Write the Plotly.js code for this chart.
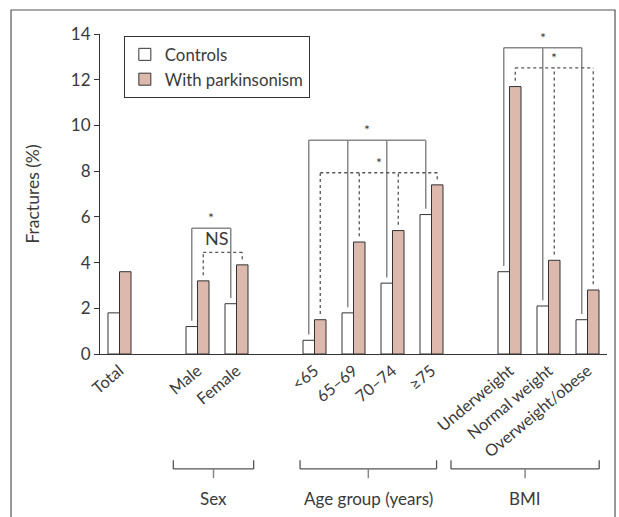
<!DOCTYPE html>
<html><head><meta charset="utf-8">
<script src="https://cdn.plot.ly/plotly-3.0.1.min.js"></script>
<style>html,body{margin:0;padding:0;background:#fff}</style>
</head><body><div id="chart" style="width:619px;height:517px"></div>
<script>
// ---- data ----
const categories = ['Total', 'Male', 'Female', '<65', '65–69', '70–74', '≥75', 'Underweight', 'Normal weight', 'Overweight/obese'];
const categoryGroup = ['', 'Sex', 'Sex', 'Age group (years)', 'Age group (years)', 'Age group (years)', 'Age group (years)', 'BMI', 'BMI', 'BMI'];
const controls = [1.8, 1.2, 2.2, 0.6, 1.8, 3.1, 6.1, 3.6, 2.1, 1.5];
const parkinsonism = [3.6, 3.2, 3.9, 1.5, 4.9, 5.4, 7.4, 11.7, 4.1, 2.8];
const seriesNames = ['Controls', 'With parkinsonism'];
const yTickValues = [0, 2, 4, 6, 8, 10, 12, 14];
const groupNames = ['Sex', 'Age group (years)', 'BMI'];
// significance comparisons within each group (level = height of bracket, % units)
const comparisons = [
  {group: 'Sex', series: 0, level: 5.5, label: '*'},
  {group: 'Sex', series: 1, level: 4.45, label: 'NS'},
  {group: 'Age group (years)', series: 0, level: 9.35, label: '*'},
  {group: 'Age group (years)', series: 1, level: 7.93, label: '*'},
  {group: 'BMI', series: 0, level: 13.4, label: '*'},
  {group: 'BMI', series: 1, level: 12.52, label: '*'}
];

// ---- decoration settings ----
const textColor = '#3a3a3a';
const fontFamily = 'Lato, "Liberation Sans", sans-serif';
const bargap = 0.41;
const barHalf = (1 - bargap) / 4;
const groupSpan = {'Sex': [1.38, 3.44], 'Age group (years)': [4.63, 8.13], 'BMI': [8.5, 12.3]};

// slot positions: one empty slot between groups
const slots = [];
let s = 0;
categories.forEach((c, i) => {
  if (i > 0) s += (categoryGroup[i] !== categoryGroup[i - 1]) ? 2 : 1;
  slots.push(s);
});

const series = [controls, parkinsonism];
const traces = [
  {type: 'bar', name: seriesNames[0], x: slots, y: controls,
   marker: {color: '#ffffff', line: {color: '#333', width: 1}}},
  {type: 'bar', name: seriesNames[1], x: slots, y: parkinsonism,
   marker: {color: '#dcb9ac', line: {color: '#333', width: 1}}}
];

const shapes = [];
const annotations = [];
const dropGap = 0.25;
comparisons.forEach(cmp => {
  const idx = categories.map((c, i) => i).filter(i => categoryGroup[i] === cmp.group);
  const off = cmp.series === 0 ? -barHalf : barHalf;
  const xs = idx.map(i => slots[i] + off);
  const line = cmp.series === 0 ? {color: '#888', width: 1.5} : {color: '#555', width: 1.3, dash: 'dot'};
  idx.forEach((i, k) => {
    shapes.push({type: 'line', xref: 'x', yref: 'y', x0: xs[k], x1: xs[k],
      y0: series[cmp.series][i] + dropGap, y1: cmp.level, line: line});
  });
  shapes.push({type: 'line', xref: 'x', yref: 'y', x0: xs[0], x1: xs[xs.length - 1],
    y0: cmp.level, y1: cmp.level, line: line});
  let lx = (xs[0] + xs[xs.length - 1]) / 2;
  if (cmp.label.length > 1) lx = (slots[idx[0]] + slots[idx[idx.length - 1]]) / 2;
  annotations.push({xref: 'x', yref: 'y', x: lx, y: cmp.level, text: cmp.label,
    showarrow: false, yanchor: 'bottom', yshift: cmp.label.length > 1 ? 1 : 0,
    font: {family: fontFamily, size: cmp.label.length > 1 ? 18 : 14, color: textColor}});
});

// group brackets under the axis
groupNames.forEach(g => {
  const [a, b] = groupSpan[g];
  const m = (a + b) / 2;
  const ln = {color: '#555', width: 1.3};
  shapes.push({type: 'line', xref: 'x', yref: 'paper', x0: a, x1: b, y0: -0.359, y1: -0.359, line: ln});
  shapes.push({type: 'line', xref: 'x', yref: 'paper', x0: a, x1: a, y0: -0.359, y1: -0.332, line: ln});
  shapes.push({type: 'line', xref: 'x', yref: 'paper', x0: b, x1: b, y0: -0.359, y1: -0.332, line: ln});
  shapes.push({type: 'line', xref: 'x', yref: 'paper', x0: m, x1: m, y0: -0.359, y1: -0.388, line: {color: '#888', width: 1.5}});
  annotations.push({xref: 'x', yref: 'paper', x: m, y: -0.45, yanchor: 'middle', text: g, showarrow: false,
    font: {family: fontFamily, size: 17, color: textColor}});
});

// outer frame
shapes.push({type: 'rect', xref: 'paper', yref: 'paper', x0: -0.1755, x1: 1.0158, y0: -0.56, y1: 1.075,
  line: {color: '#555', width: 1.2}, fillcolor: 'rgba(0,0,0,0)'});

const layout = {
  width: 619, height: 517,
  margin: {l: 100, r: 12, t: 34, b: 163},
  paper_bgcolor: '#fff', plot_bgcolor: '#fff',
  font: {family: fontFamily, size: 17, color: textColor},
  barmode: 'group', bargap: bargap, bargroupgap: 0,
  showlegend: true,
  legend: {x: 0.047, y: 0.994, xanchor: 'left', yanchor: 'top', bordercolor: '#333', borderwidth: 1,
    bgcolor: '#fff', font: {family: fontFamily, size: 16.8, color: textColor}},
  xaxis: {range: [-0.5, 12.5], tickvals: slots, ticktext: categories, tickangle: -40,
    showline: true, linecolor: '#333', linewidth: 1, ticks: '', showgrid: false, zeroline: false,
    tickfont: {family: fontFamily, size: 16.3, color: textColor}},
  yaxis: {range: [0, 14], tickvals: yTickValues, ticks: 'outside', ticklen: 5, tickcolor: '#333',
    showline: true, linecolor: '#333', linewidth: 1, showgrid: false, zeroline: false,
    tickfont: {family: fontFamily, size: 17, color: textColor},
    title: {text: 'Fractures (%)', standoff: 26, font: {family: fontFamily, size: 17.5, color: textColor}}},
  shapes: shapes,
  annotations: annotations
};

Plotly.newPlot('chart', traces, layout, {displayModeBar: false, staticPlot: true});
</script>
</body></html>
